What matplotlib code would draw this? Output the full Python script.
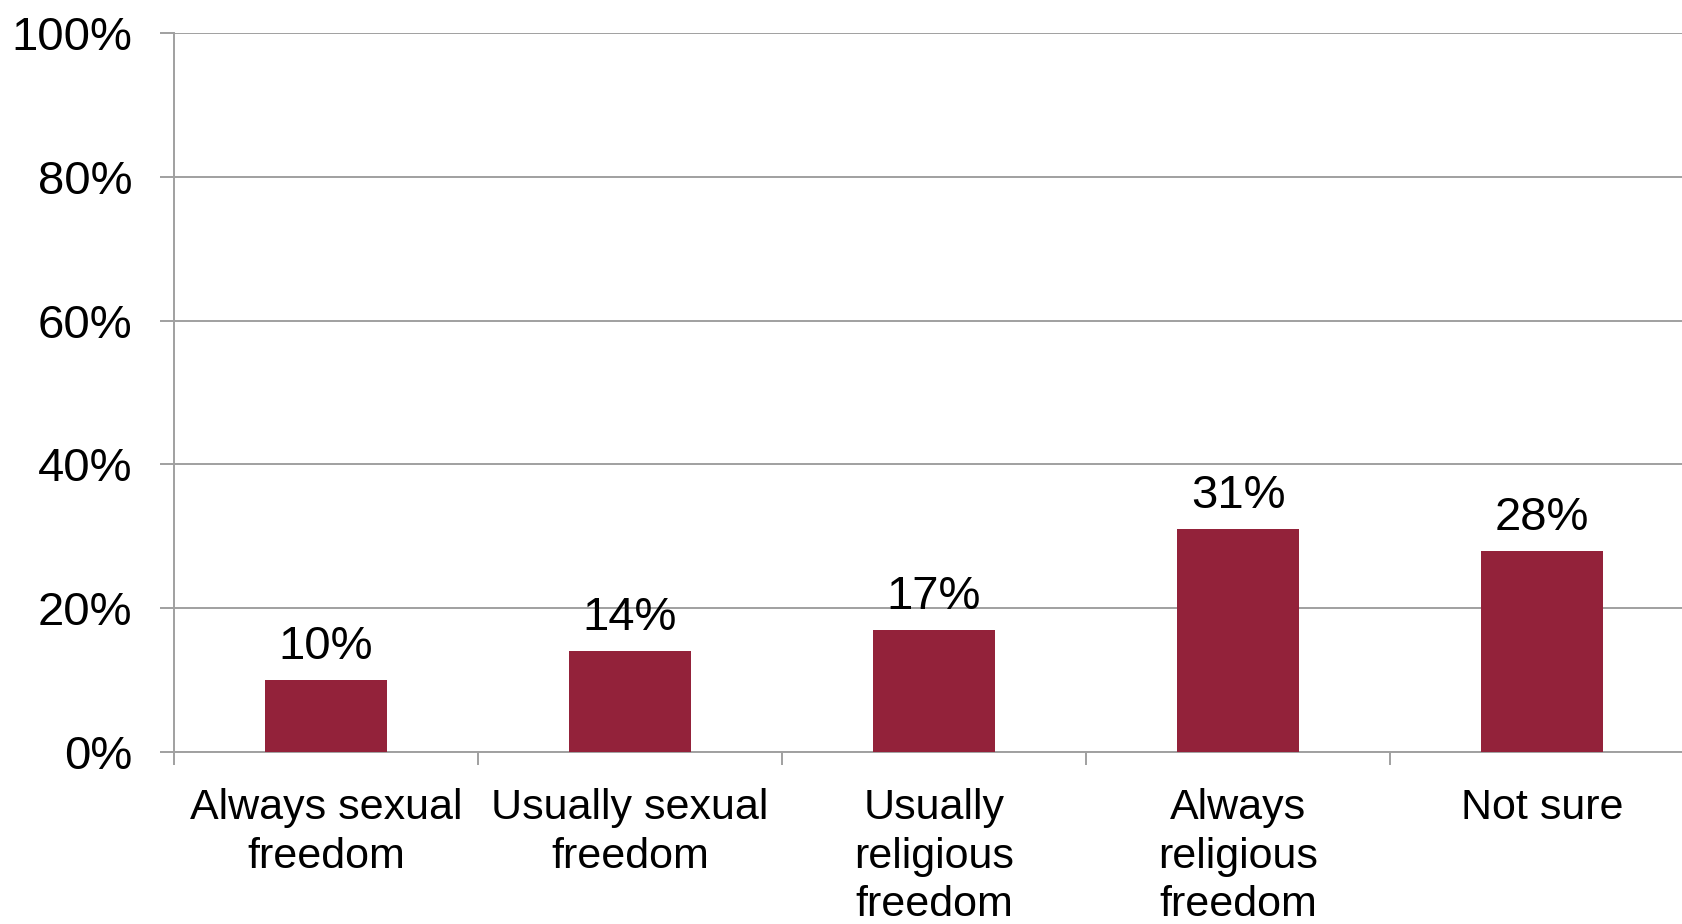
import matplotlib.pyplot as plt
import numpy as np

"""
Bar chart: sexual freedom vs religious freedom survey responses
"""

categories = ["Always sexual\nfreedom", "Usually sexual\nfreedom", "Usually\nreligious\nfreedom",
              "Always\nreligious\nfreedom", "Not sure"]
values = [10, 14, 17, 31, 28]
yticks = [0, 20, 40, 60, 80, 100]

plt.rcParams['font.family'] = ['Liberation Sans', 'DejaVu Sans']

bar_color = '#93223A'
line_color = '#a0a0a0'

fig = plt.figure(figsize=(16.82, 9.24), dpi=100)
ax = fig.add_axes([174/1682, 1-752/924, 1520/1682, (752-33)/924])

x = np.arange(len(categories)) + 0.5
bars = ax.bar(x, values, width=0.4, color=bar_color, zorder=3)

for b, v in zip(bars, values):
	ax.annotate("%d%%" % v, (b.get_x()+b.get_width()/2, v), xytext=(0, 8),
		textcoords='offset points', ha='center', va='bottom', fontsize=34)

ax.set_xlim(0, len(categories))
ax.set_ylim(0, 100)
ax.set_yticks(yticks)
ax.set_yticklabels(["%d%%" % t for t in yticks], fontsize=34)

# boundaries get the tick marks, centers get the labels
ax.set_xticks(np.arange(len(categories)+1))
ax.set_xticklabels([])
ax.set_xticks(x, minor=True)
ax.set_xticklabels(categories, minor=True, fontsize=31, linespacing=1.28)
ax.tick_params(axis='x', which='major', length=9, width=1.4, color=line_color)
ax.tick_params(axis='x', which='minor', length=0, pad=26)
ax.tick_params(axis='y', length=10, width=1.4, color=line_color, pad=20)

ax.yaxis.grid(True, color=line_color, linewidth=1.4, zorder=0)
for s in ['top', 'right']:
	ax.spines[s].set_visible(False)
for s in ['left', 'bottom']:
	ax.spines[s].set_color(line_color)
	ax.spines[s].set_linewidth(1.4)

fig.savefig("out.png", dpi=100)
